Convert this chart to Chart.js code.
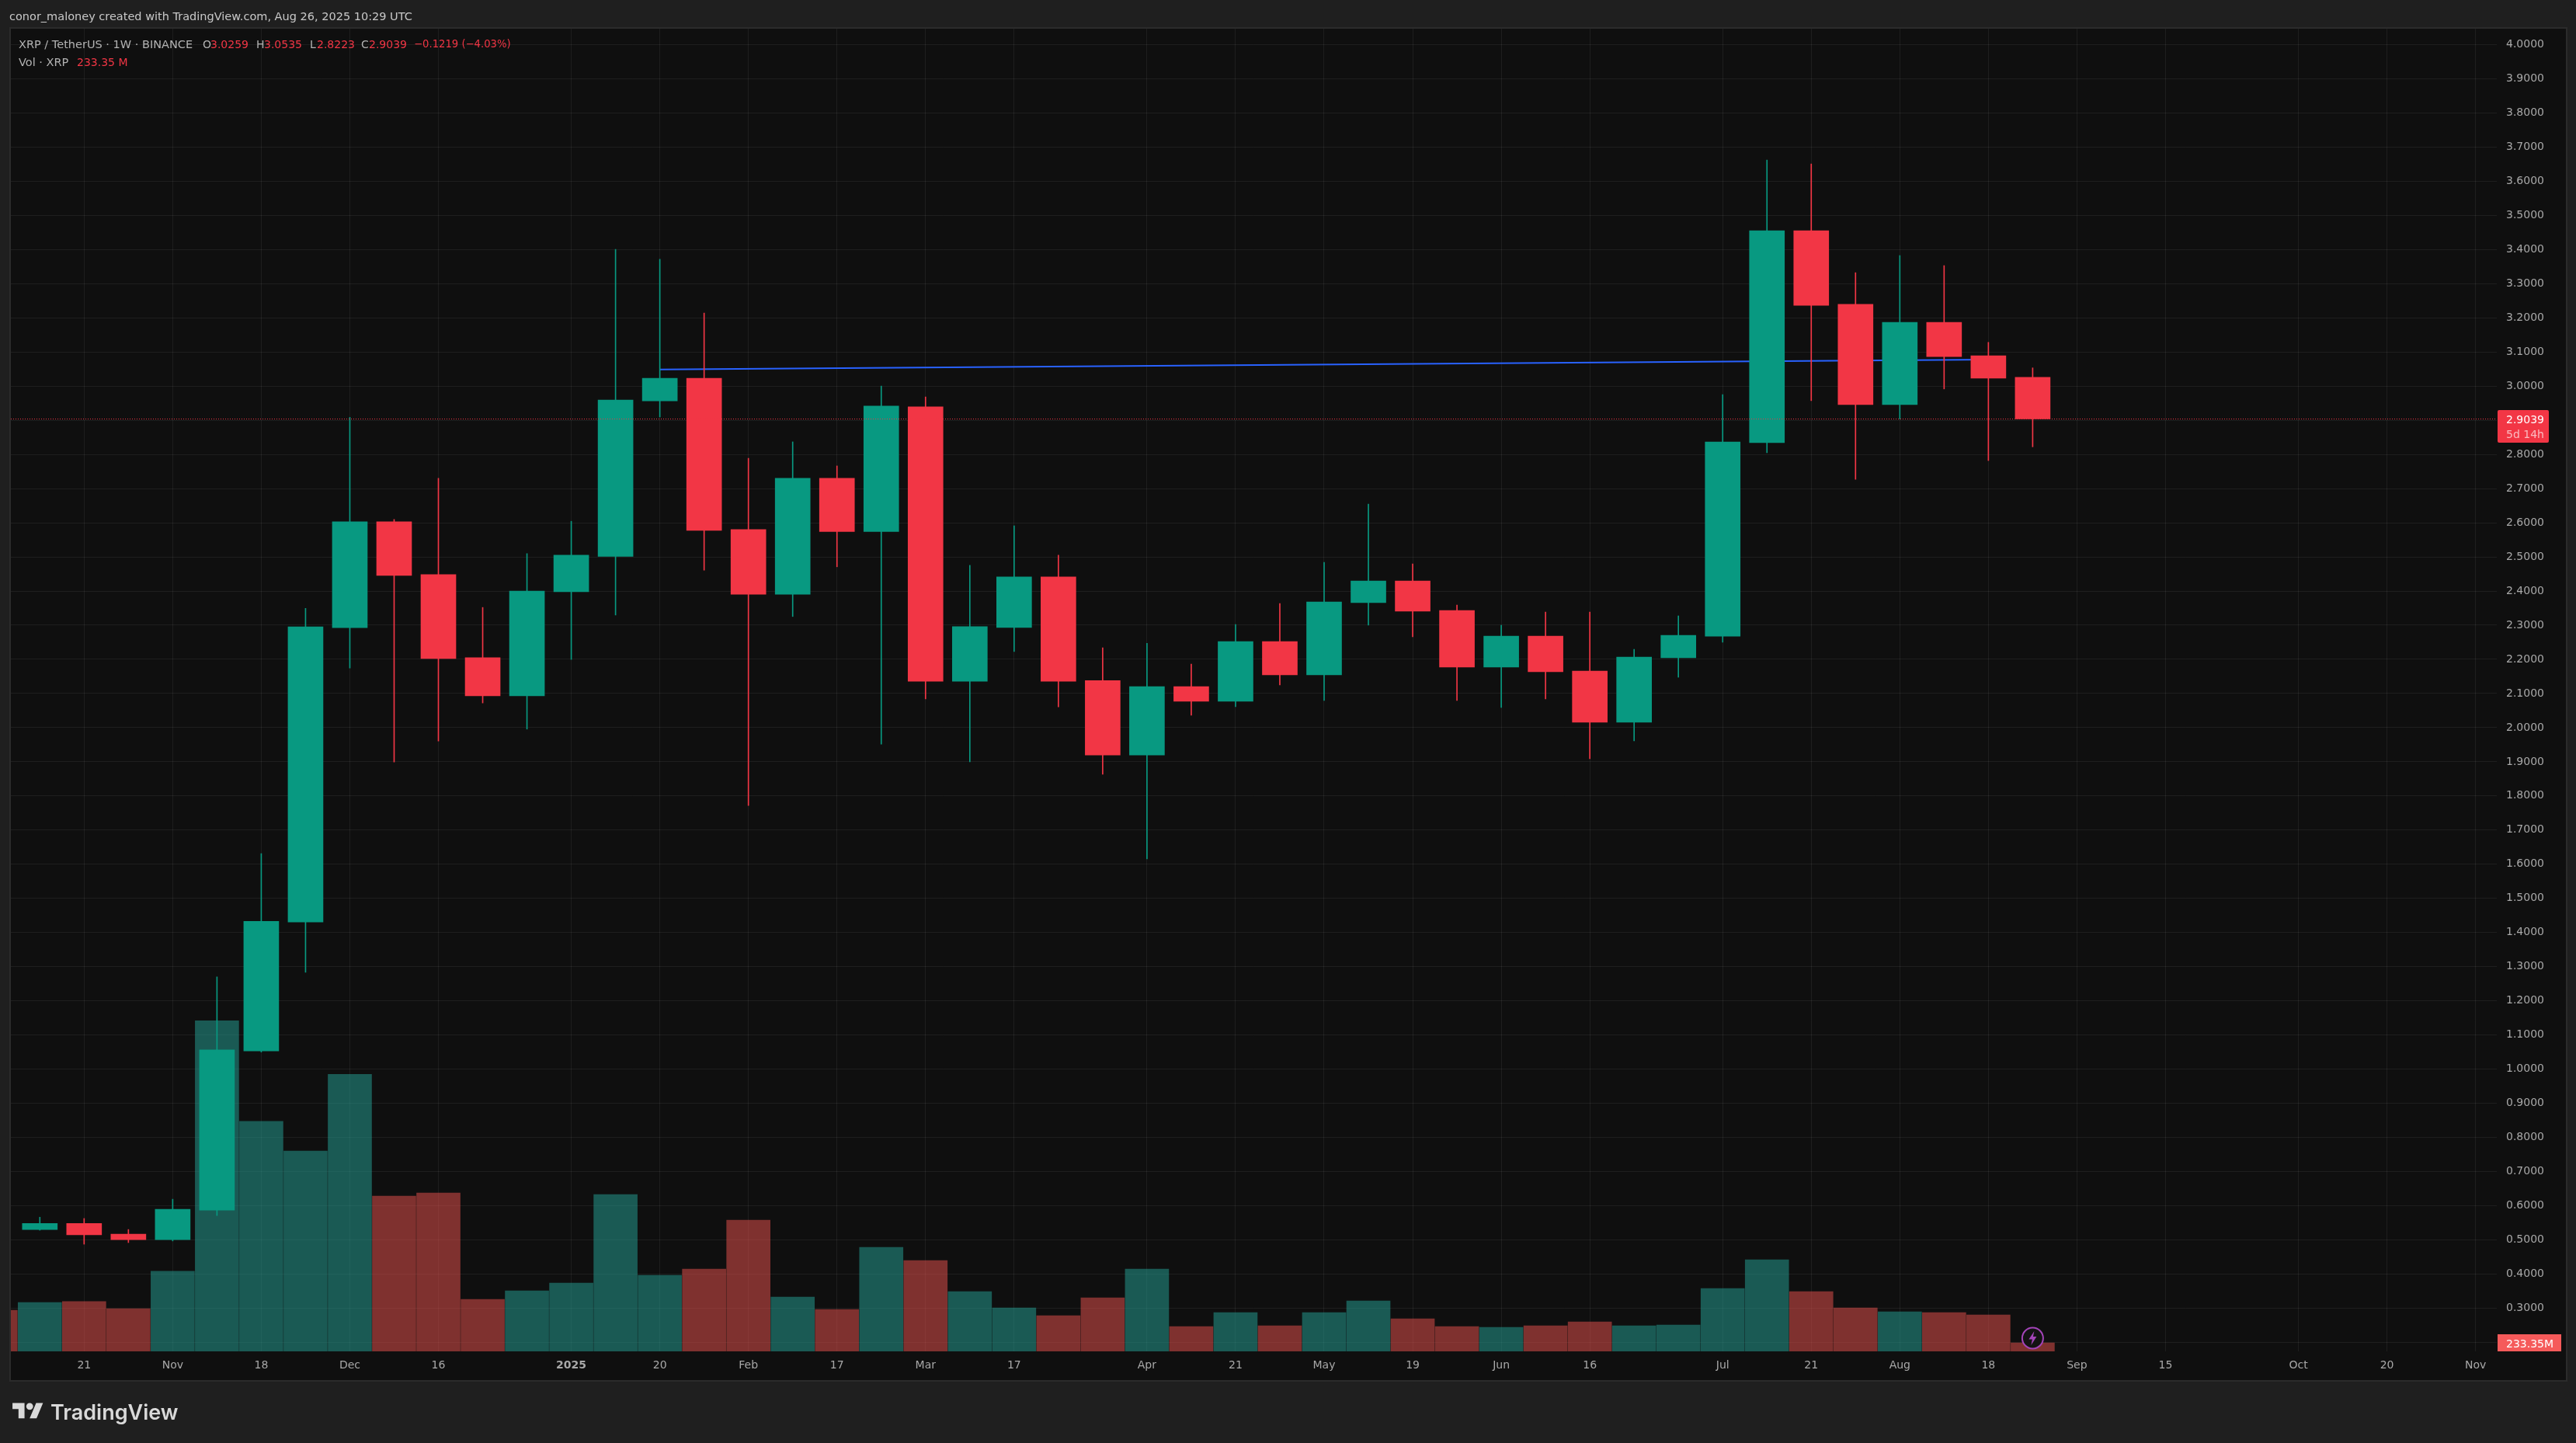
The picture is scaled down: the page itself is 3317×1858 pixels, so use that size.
<!DOCTYPE html>
<html>
<head>
<meta charset="utf-8">
<title>XRP / TetherUS 1W</title>
<script src="https://cdn.jsdelivr.net/npm/chart.js@4/dist/chart.umd.min.js"></script>
<style>
  html, body { margin: 0; padding: 0; background: #1f1f1f; overflow: hidden; }
  body { width: 3317px; height: 1858px; position: relative; font-family: "DejaVu Sans", sans-serif; font-size: 14.5px; }
  #frame { position: absolute; left: 12px; top: 35px; width: 3290px; height: 1740px; background: #0f0f0f; border: 2px solid #2b2b2b; }
  #chart { position: absolute; left: 0; top: 0; }
  .txt { position: absolute; white-space: nowrap; line-height: 18px; color: #b2b2b2; }
  .num { font-size: 14px; }
  .red { color: #f23645; }
  #logo { position: absolute; left: 16px; top: 1802px; width: 40px; height: 31px; fill: #d9d9d9; }
  #brand { position: absolute; left: 65px; top: 1799px; font: 600 27px Inter, sans-serif; line-height: 40px; color: #d9d9d9; white-space: nowrap; }
</style>
</head>
<body>
<div id="frame"></div>
<canvas id="chart" width="3317" height="1858"></canvas>

<div class="txt" style="left:12px;top:12px;color:#c8c8c8">conor_maloney created with TradingView.com, Aug 26, 2025 10:29 UTC</div>

<div class="txt" style="left:24px;top:48px">XRP / TetherUS · 1W · BINANCE</div>
<div class="txt num" style="left:261px;top:48px">O</div><div class="txt num red" style="left:271px;top:48px">3.0259</div>
<div class="txt num" style="left:330px;top:48px">H</div><div class="txt num red" style="left:340px;top:48px">3.0535</div>
<div class="txt num" style="left:399px;top:48px">L</div><div class="txt num red" style="left:408px;top:48px">2.8223</div>
<div class="txt num" style="left:465px;top:48px">C</div><div class="txt num red" style="left:475px;top:48px">2.9039</div>
<div class="txt red" style="left:533px;top:48px;font-size:13.2px">−0.1219 (−4.03%)</div>
<div class="txt" style="left:24px;top:71px">Vol · XRP</div>
<div class="txt num red" style="left:99px;top:71px">233.35 M</div>

<svg id="logo" viewBox="0 0 36 28"><path d="M14 22H7V11H0V4h14v18zM28 22h-8l7.5-18h8L28 22z"/><circle cx="20" cy="8" r="4"/></svg>
<div id="brand">TradingView</div>

<script>
// weekly candles, index 0 is the bar cut off by the left edge (only its volume shows)
const opens = [null, 0.5303, 0.5483, 0.5170, 0.5008, 0.5874, 1.0532, 1.4307, 2.2927, 2.6027, 2.4483, 2.2047, 2.0933, 2.3982, 2.5017, 2.9570, 3.0232, 2.5802, 2.3905, 2.7300, 2.5745, 2.9395, 2.1358, 2.2934, 2.4412, 2.1380, 1.9197, 2.1203, 2.0771, 2.2522, 2.1544, 2.3659, 2.4296, 2.3432, 2.1772, 2.2681, 2.1658, 2.0157, 2.2045, 2.2677, 2.8349, 3.4551, 3.2397, 2.9463, 3.1867, 3.0892, 3.0259];
const highs = [null, 0.5665, 0.5627, 0.5304, 0.6191, 1.2700, 1.6313, 2.3495, 2.9090, 2.6095, 2.7303, 2.3520, 2.5097, 2.6043, 3.4003, 3.3716, 3.2140, 2.7885, 2.8369, 2.7664, 3.0000, 2.9682, 2.4753, 2.5911, 2.5051, 2.2340, 2.2472, 2.1863, 2.3022, 2.3637, 2.4842, 2.6548, 2.4796, 2.3591, 2.3000, 2.3386, 2.3386, 2.2295, 2.3273, 2.9750, 3.6620, 3.6509, 3.3325, 3.3825, 3.3530, 3.1283, 3.0535];
const lows = [null, 0.5283, 0.4874, 0.4921, 0.4969, 0.5713, 1.0500, 1.2834, 2.1744, 1.8995, 1.9609, 2.0723, 1.9957, 2.1997, 2.3298, 2.9097, 2.4610, 1.7721, 2.3254, 2.4710, 1.9518, 2.0839, 1.8999, 2.2229, 2.0607, 1.8635, 1.6154, 2.0362, 2.0612, 2.1249, 2.0794, 2.3000, 2.2659, 2.0794, 2.0589, 2.0839, 1.9088, 1.9611, 2.1476, 2.2500, 2.8051, 2.9575, 2.7273, 2.9036, 2.9918, 2.7821, 2.8223];
const closes = [null, 0.5483, 0.5151, 0.5008, 0.5895, 1.0562, 1.4330, 2.2952, 2.6027, 2.4460, 2.2022, 2.0933, 2.3996, 2.5051, 2.9593, 3.0232, 2.5779, 2.3905, 2.7300, 2.5745, 2.9418, 2.1358, 2.2957, 2.4412, 2.1358, 1.9197, 2.1203, 2.0771, 2.2522, 2.1544, 2.3682, 2.4296, 2.3409, 2.1772, 2.2681, 2.1635, 2.0157, 2.2067, 2.2704, 2.8367, 3.4551, 3.2368, 2.9463, 3.1867, 3.0864, 3.0234, 2.9039];
// volume in millions of XRP
const volumes = [1122, 1334, 1362, 1167, 2189, 9033, 6285, 5472, 7572, 4242, 4327, 1421, 1654, 1866, 4284, 2079, 2248, 3584, 1485, 1145, 2842, 2482, 1633, 1188, 976, 1463, 2248, 679, 1061, 700, 1061, 1379, 891, 679, 658, 700, 806, 700, 721, 1718, 2503, 1633, 1188, 1082, 1061, 997, 233.35];

const timeTickWeeks = [2, 4, 6, 8, 10, 13, 15, 17, 19, 21, 23, 26, 28, 30, 32, 34, 36, 39, 41, 43, 45, 47, 49, 52, 54, 56];
const timeTickLabels = ['21', 'Nov', '18', 'Dec', '16', '2025', '20', 'Feb', '17', 'Mar', '17', 'Apr', '21', 'May', '19', 'Jun', '16', 'Jul', '21', 'Aug', '18', 'Sep', '15', 'Oct', '20', 'Nov'];
const priceTicks = [0.2, 0.3, 0.4, 0.5, 0.6, 0.7, 0.8, 0.9, 1.0, 1.1, 1.2, 1.3, 1.4, 1.5, 1.6, 1.7, 1.8, 1.9, 2.0, 2.1, 2.2, 2.3, 2.4, 2.5, 2.6, 2.7, 2.8, 2.9, 3.0, 3.1, 3.2, 3.3, 3.4, 3.5, 3.6, 3.7, 3.8, 3.9, 4.0];

const trendWeeks = [15, 45];
const trendPrices = [3.0487, 3.078];
const lastPrice = 2.9039;
const lastPriceLabel = '2.9039';
const countdownLabel = '5d 14h';
const lastVolumeLabel = '233.35M';

const UP = '#089981';
const DOWN = '#f23645';
const VOL_UP = 'rgba(38,166,154,0.5)';
const VOL_DOWN = 'rgba(239,83,80,0.5)';
const FONT = '"DejaVu Sans", sans-serif';

const xMin = 0.346, xMax = 56.48;
const yMin = 0.1736, yMax = 4.0466;
const volMax = 36142;

const isUp = i => closes[i] !== null && closes[i] >= opens[i];
const candleIdx = opens.map((o, i) => i).filter(i => opens[i] !== null);

// price tag, volume tag and the lightning badge sit on top of everything
const overlays = {
  id: 'overlays',
  afterDraw(chart) {
    const ctx = chart.ctx;
    const area = chart.chartArea;
    const y = chart.scales.y;
    const y2 = chart.scales.y2;
    const x = chart.scales.x;

    let py = y.getPixelForValue(lastPrice);
    ctx.save();
    ctx.fillStyle = DOWN;
    ctx.beginPath();
    ctx.roundRect(area.right + 1, py - 11.5, 66, 42, 2);
    ctx.fill();
    ctx.font = '14px ' + FONT;
    ctx.textAlign = 'left';
    ctx.textBaseline = 'middle';
    ctx.fillStyle = '#ffffff';
    ctx.fillText(lastPriceLabel, area.right + 12, py + 1.5);
    ctx.fillStyle = 'rgba(255,255,255,0.65)';
    ctx.fillText(countdownLabel, area.right + 12, py + 20.5);

    let vy = y2.getPixelForValue(volumes[volumes.length - 1]);
    ctx.fillStyle = '#f55a5a';
    ctx.fillRect(area.right + 1, vy - 11, 82, 22);
    ctx.fillStyle = '#ffffff';
    ctx.fillText(lastVolumeLabel, area.right + 12, vy + 2);

    let bx = x.getPixelForValue(opens.length - 1);
    let by = area.bottom - 17;
    ctx.beginPath();
    ctx.arc(bx, by, 13.5, 0, Math.PI * 2);
    ctx.fillStyle = '#131313';
    ctx.fill();
    ctx.lineWidth = 2;
    ctx.strokeStyle = '#a344b8';
    ctx.stroke();
    ctx.beginPath();
    ctx.moveTo(bx + 2, by - 9);
    ctx.lineTo(bx - 5, by + 1.5);
    ctx.lineTo(bx - 0.5, by + 1.5);
    ctx.lineTo(bx - 2, by + 9);
    ctx.lineTo(bx + 5, by - 2);
    ctx.lineTo(bx + 0.5, by - 2);
    ctx.closePath();
    ctx.fillStyle = '#a344b8';
    ctx.fill();
    ctx.restore();
  }
};

new Chart(document.getElementById('chart'), {
  type: 'bar',
  plugins: [overlays],
  data: {
    datasets: [
      {
        label: 'Last price',
        type: 'line',
        data: [{x: xMin, y: lastPrice}, {x: xMax, y: lastPrice}],
        borderColor: DOWN,
        borderWidth: 1,
        borderDash: [1, 2],
        pointRadius: 0,
        order: 0
      },
      {
        label: 'Body',
        data: candleIdx.map(i => ({x: i, y: [opens[i], closes[i]]})),
        backgroundColor: candleIdx.map(i => isUp(i) ? UP : DOWN),
        barThickness: 45,
        grouped: false,
        order: 1
      },
      {
        label: 'Wick',
        data: candleIdx.map(i => ({x: i, y: [lows[i], highs[i]]})),
        backgroundColor: candleIdx.map(i => isUp(i) ? UP : DOWN),
        barThickness: 1,
        grouped: false,
        order: 2
      },
      {
        label: 'Trend',
        type: 'line',
        data: trendWeeks.map((w, i) => ({x: w, y: trendPrices[i]})),
        borderColor: '#2962ff',
        borderWidth: 2,
        pointRadius: 0,
        order: 3
      },
      {
        label: 'Volume',
        yAxisID: 'y2',
        data: volumes.map((v, i) => ({x: i, y: v})),
        backgroundColor: volumes.map((v, i) => isUp(i) ? VOL_UP : VOL_DOWN),
        barThickness: 56,
        grouped: false,
        order: 4
      }
    ]
  },
  options: {
    responsive: false,
    animation: false,
    devicePixelRatio: 1,
    layout: { padding: { left: 14, top: 37, right: 13, bottom: 81 } },
    plugins: { legend: { display: false }, tooltip: { enabled: false } },
    scales: {
      x: {
        type: 'linear',
        offset: false,
        min: xMin,
        max: xMax,
        border: { display: false },
        grid: { color: 'rgba(242,242,242,0.07)', offset: false, drawTicks: false },
        afterBuildTicks: axis => { axis.ticks = timeTickWeeks.map(v => ({value: v})); },
        afterFit: axis => { axis.height = 37; },
        ticks: {
          autoSkip: false,
          maxRotation: 0,
          padding: 10,
          color: '#a8a8a8',
          font: ctx => ({ family: FONT, size: 14, weight: ctx.tick && ctx.tick.value === 13 ? 'bold' : 'normal' }),
          callback: v => timeTickLabels[timeTickWeeks.indexOf(v)]
        }
      },
      y: {
        position: 'right',
        min: yMin,
        max: yMax,
        border: { display: false },
        grid: { color: 'rgba(242,242,242,0.07)', drawTicks: false },
        afterBuildTicks: axis => { axis.ticks = priceTicks.map(v => ({value: v})); },
        afterFit: axis => { axis.width = 89; },
        ticks: {
          autoSkip: false,
          padding: 12,
          crossAlign: 'near',
          color: '#a8a8a8',
          font: { family: FONT, size: 14 },
          callback: v => v.toFixed(4)
        }
      },
      y2: {
        display: false,
        min: 0,
        max: volMax
      }
    }
  }
});
</script>
</body>
</html>
